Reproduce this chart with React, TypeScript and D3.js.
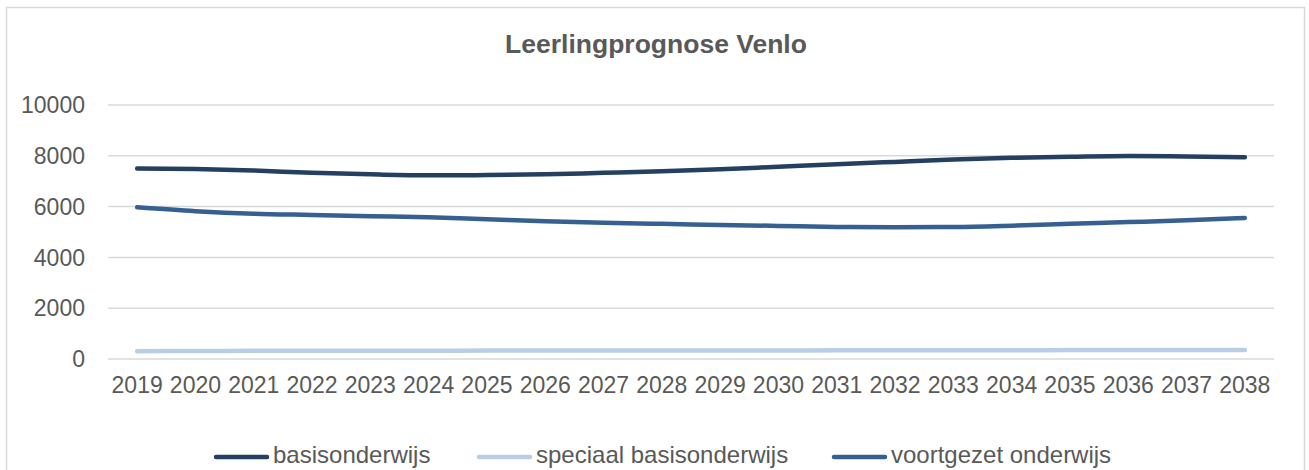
import React, { useEffect, useRef } from 'react';
import * as d3 from 'd3';

const years = ['2019', '2020', '2021', '2022', '2023', '2024', '2025', '2026', '2027', '2028',
  '2029', '2030', '2031', '2032', '2033', '2034', '2035', '2036', '2037', '2038'];

const basisonderwijs = [7500, 7480, 7420, 7330, 7270, 7230, 7240, 7270, 7330, 7390,
  7470, 7570, 7670, 7760, 7850, 7920, 7960, 7990, 7970, 7940];
const speciaalBasisonderwijs = [310, 315, 320, 322, 325, 327, 330, 330, 332, 335,
  337, 338, 340, 342, 345, 347, 350, 352, 355, 358];
const voortgezetOnderwijs = [5970, 5820, 5720, 5670, 5620, 5580, 5500, 5420, 5360, 5320,
  5280, 5240, 5200, 5190, 5200, 5250, 5320, 5390, 5460, 5550];

const yTicks = [0, 2000, 4000, 6000, 8000, 10000];

const series = [
  { name: 'basisonderwijs', values: basisonderwijs, color: '#243f60' },
  { name: 'speciaal basisonderwijs', values: speciaalBasisonderwijs, color: '#b9cde5' },
  { name: 'voortgezet onderwijs', values: voortgezetOnderwijs, color: '#376092' },
];

const W = 1309;
const H = 470;
const font = '"Liberation Sans", Arial, sans-serif';
const textColor = '#595959';

export default function App() {
  const ref = useRef<SVGSVGElement>(null);

  useEffect(() => {
    const svg = d3.select(ref.current);
    svg.selectAll('*').remove();

    // chart border
    svg.append('rect')
      .attr('x', 6.5).attr('y', 7.5)
      .attr('width', 1298).attr('height', 470)
      .attr('fill', '#fff')
      .attr('stroke', '#d9d9d9').attr('stroke-width', 1.5);

    svg.append('text')
      .attr('x', 656).attr('y', 53)
      .attr('text-anchor', 'middle')
      .attr('font-family', font).attr('font-size', 26.5).attr('font-weight', 'bold')
      .attr('fill', textColor)
      .text('Leerlingprognose Venlo');

    const x = d3.scaleBand().domain(years).range([108, 1274]);
    const y = d3.scaleLinear().domain([0, 10000]).range([359, 105]);

    // gridlines
    svg.append('g')
      .selectAll('line')
      .data(yTicks)
      .join('line')
        .attr('x1', 108).attr('x2', 1274)
        .attr('y1', d => y(d)).attr('y2', d => y(d))
        .attr('stroke', '#d9d9d9').attr('stroke-width', 1.5);

    // y labels
    svg.append('g')
      .selectAll('text')
      .data(yTicks)
      .join('text')
        .attr('x', 85).attr('y', d => y(d))
        .attr('dy', '0.36em')
        .attr('text-anchor', 'end')
        .attr('font-family', font).attr('font-size', 23)
        .attr('fill', textColor)
        .text(d => d);

    // x labels
    svg.append('g')
      .selectAll('text')
      .data(years)
      .join('text')
        .attr('x', d => x(d)! + x.bandwidth() / 2).attr('y', 393)
        .attr('text-anchor', 'middle')
        .attr('font-family', font).attr('font-size', 23)
        .attr('fill', textColor)
        .text(d => d);

    const line = d3.line<number>()
      .x((d, i) => x(years[i])! + x.bandwidth() / 2)
      .y(d => y(d))
      .curve(d3.curveMonotoneX);

    svg.append('g')
      .selectAll('path')
      .data(series)
      .join('path')
        .attr('d', d => line(d.values))
        .attr('fill', 'none')
        .attr('stroke', d => d.color)
        .attr('stroke-width', 4.5)
        .attr('stroke-linecap', 'round')
        .attr('stroke-linejoin', 'round');

    // legend
    const legendX = [216, 479, 834];
    const lg = svg.append('g')
      .selectAll('g')
      .data(series)
      .join('g')
        .attr('transform', (d, i) => `translate(${legendX[i]},457)`);
    lg.append('line')
      .attr('x1', 0).attr('x2', 51)
      .attr('stroke', d => d.color)
      .attr('stroke-width', 4.5)
      .attr('stroke-linecap', 'round');
    lg.append('text')
      .attr('x', 57).attr('dy', 6)
      .attr('font-family', font).attr('font-size', 24)
      .attr('fill', textColor)
      .text(d => d.name);
  });

  return (
    <svg ref={ref} width={W} height={H}
      style={{ position: 'absolute', left: 0, top: 0, background: '#fff' }} />
  );
}
